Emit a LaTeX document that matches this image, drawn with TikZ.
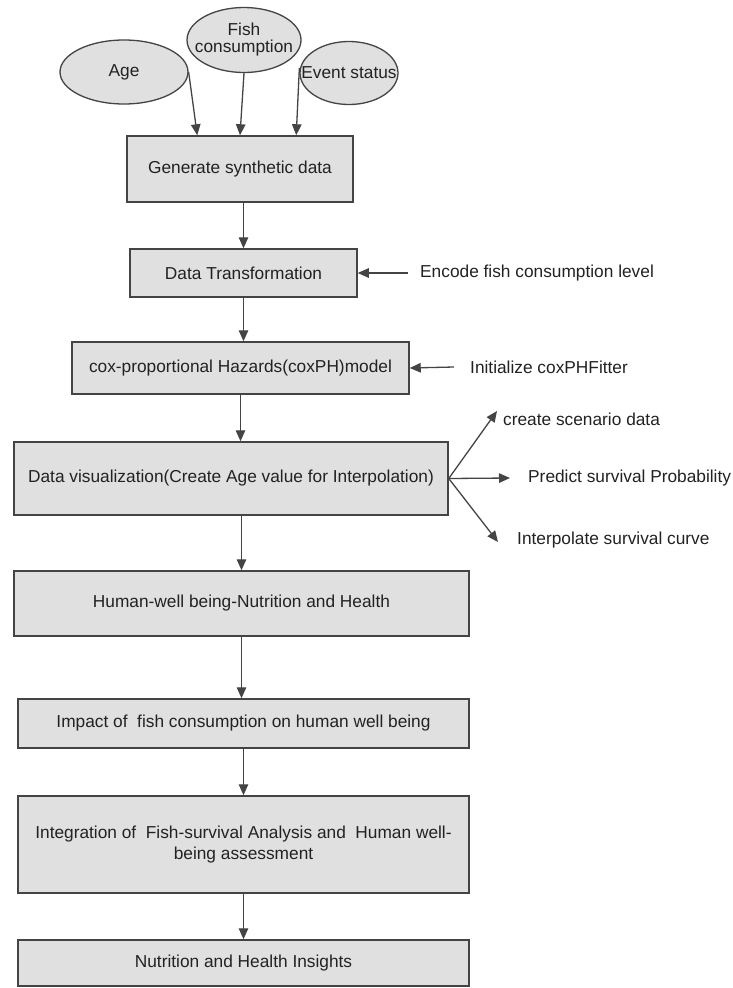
\documentclass[tikz,border=0pt]{standalone}
\usepackage{fontspec}
\setmainfont{Liberation Sans}
\usetikzlibrary{arrows.meta,shapes.geometric,calc}
\definecolor{boxfill}{HTML}{E0E0E0}
\definecolor{edge}{HTML}{444444}
\definecolor{txt}{HTML}{222222}
\begin{document}
\begin{tikzpicture}[x=1pt,y=-1pt,
  box/.style={rectangle, draw=edge, fill=boxfill, line width=1.5pt, inner sep=0pt, align=center, text=txt, font=\fontsize{17.3}{21}\selectfont},
  ell/.style={ellipse, draw=edge, fill=boxfill, line width=1.3pt, inner sep=0pt, text=txt, font=\fontsize{17.3}{19}\selectfont},
  arr/.style={draw=edge, line width=1.3pt, -{Triangle[length=11pt,width=9.5pt]}},
  lbl/.style={anchor=west, inner sep=0pt, text=txt, font=\fontsize{17.3}{21}\selectfont}]
\useasboundingbox (0,0) rectangle (732,988);
% inputs
\node[ell, minimum width=128pt, minimum height=64pt] (age) at (124,72) {\makebox[0pt]{Age}};
\node[ell, minimum width=114pt, minimum height=65pt] (fish) at (244,40) {\makebox[0pt]{\begin{tabular}{@{}c@{}}Fish\\[-2pt]consumption\end{tabular}}};
\node[ell, minimum width=98pt, minimum height=63pt] (event) at (349,73) {\makebox[0pt]{Event status}};
% main boxes
\node[box, minimum width=226pt, minimum height=66pt] (gen) at (240,169) {Generate synthetic data};
\node[box, minimum width=227pt, minimum height=48pt] (dt) at (243.5,273) {Data Transformation};
\node[box, minimum width=337pt, minimum height=52pt] (cox) at (240.5,368) {cox-proportional Hazards(coxPH)model};
\node[box, minimum width=434pt, minimum height=73pt] (dv) at (231,478.5) {Data visualization(Create Age value for Interpolation)};
\node[box, minimum width=455pt, minimum height=65pt] (hum) at (241.5,603.5) {Human-well being-Nutrition and Health};
\node[box, minimum width=451pt, minimum height=49pt] (imp) at (243.5,723.5) {Impact of\ \ fish consumption on human well being};
\node[box, minimum width=451pt, minimum height=97pt] (integ) at (243.5,844.5) {Integration of\ \ Fish-survival Analysis and\ \ Human well-\\being assessment};
\node[box, minimum width=451pt, minimum height=46pt] (nut) at (243.5,963) {Nutrition and Health Insights};
% side labels
\node[lbl] (enc) at (420,273) {Encode fish consumption level};
\node[lbl] (init) at (470,367) {Initialize coxPHFitter};
\node[lbl] (scen) at (503,419) {create scenario data};
\node[lbl] (pred) at (528,478) {Predict survival Probability};
\node[lbl] (interp) at (517,540) {Interpolate survival curve};
% input arrows
\draw[arr] (age.east) -- ([xshift=71pt]gen.north west);
\draw[arr] (fish.south) -- (gen.north);
\draw[arr] ([yshift=5pt]event.west) -- ([xshift=170pt]gen.north west);
% main flow
\draw[arr] (gen.south -| dt.north) -- (dt.north);
\draw[arr] (dt.south) -- (dt.south |- cox.north);
\draw[arr] (cox.south) -- (cox.south |- dv.north);
\draw[arr] (dv.south -| hum.north) -- (hum.north);
\draw[arr] (hum.south) -- (hum.south |- imp.north);
\draw[arr] (imp.south) -- (integ.north);
\draw[arr] (integ.south) -- (nut.north);
% side arrows
\draw[arr] ([xshift=-12pt]enc.west) -- (dt.east);
\draw[arr] ([xshift=-16pt]init.west) -- (cox.east);
\draw[arr] (dv.east) -- ([shift={(-6pt,8pt)}]scen.west);
\draw[arr] (dv.east) -- ([xshift=-18pt]pred.west);
\draw[arr] (dv.east) -- ([shift={(-19pt,-2pt)}]interp.west);
\end{tikzpicture}
\end{document}
